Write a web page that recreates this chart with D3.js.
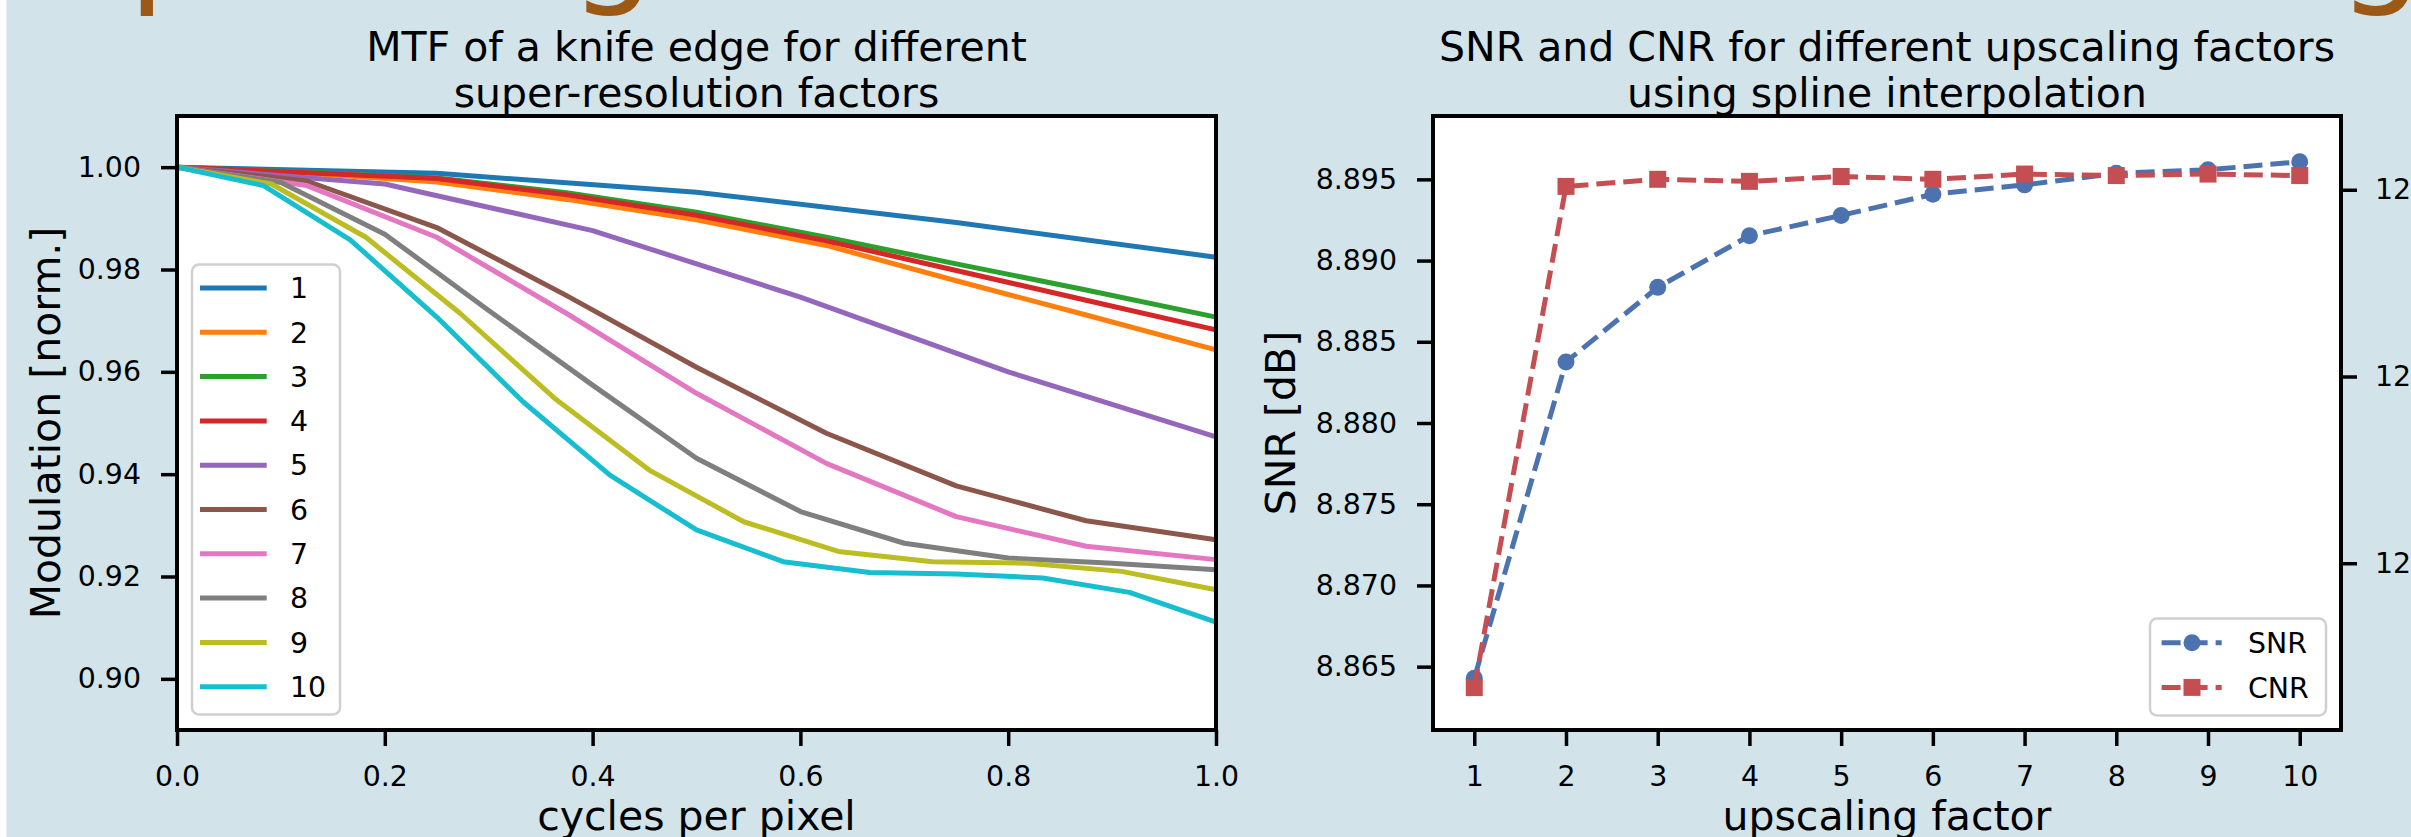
<!DOCTYPE html>
<html>
<head>
<meta charset="utf-8">
<script src="https://cdn.jsdelivr.net/npm/d3@7"></script>
<style>
  html, body { margin: 0; padding: 0; background: #d2e4ea; }
  svg.vis { display: block; font-family: 'DejaVu Sans', sans-serif; }
</style>
</head>
<body>
<svg class="vis" width="2411" height="837"></svg>
<script>

// ---- left chart: MTF per super-resolution factor ----
const mtfNames = ['1', '2', '3', '4', '5', '6', '7', '8', '9', '10'];
const mtfColors = ['#1f77b4', '#ff7f0e', '#2ca02c', '#d62728', '#9467bd',
                   '#8c564b', '#e377c2', '#7f7f7f', '#bcbd22', '#17becf'];

const freq4  = [0, 0.25, 0.5, 0.75, 1.0];
const freq5  = [0, 0.2, 0.4, 0.6, 0.8, 1.0];
const freq8  = [0, 0.125, 0.25, 0.375, 0.5, 0.625, 0.75, 0.875, 1.0];
const freq10 = [0, 0.1, 0.2, 0.3, 0.4, 0.5, 0.6, 0.7, 0.8, 0.9, 1.0];
const freq11 = [0, 0.0909, 0.1818, 0.2727, 0.3636, 0.4545, 0.5455, 0.6364, 0.7273, 0.8182, 0.9091, 1.0];
const freq12 = [0, 0.0833, 0.1667, 0.25, 0.3333, 0.4167, 0.5, 0.5833, 0.6667, 0.75, 0.8333, 0.9167, 1.0];

const mtf1  = [1.0, 0.9988, 0.9951, 0.9892, 0.9824];
const mtf2  = [1.0, 0.9988, 0.9971, 0.9937, 0.9897, 0.9847, 0.9778, 0.9711, 0.9643];
const mtf3  = [1.0, 0.9990, 0.9979, 0.9950, 0.9912, 0.9863, 0.9811, 0.9760, 0.9707];
const mtf4  = [1.0, 0.9989, 0.9978, 0.9946, 0.9906, 0.9856, 0.9798, 0.9740, 0.9682];
const mtf5  = [1.0, 0.9967, 0.9876, 0.9746, 0.9600, 0.9473];
const mtf6  = [1.0, 0.9973, 0.9882, 0.9749, 0.9609, 0.9480, 0.9377, 0.9309, 0.9272];
const mtf7  = [1.0, 0.9964, 0.9863, 0.9714, 0.9558, 0.9421, 0.9317, 0.9259, 0.9233];
const mtf8  = [1.0, 0.9970, 0.9869, 0.9720, 0.9574, 0.9431, 0.9327, 0.9265, 0.9236, 0.9226, 0.9213];
const mtf9  = [1.0, 0.9967, 0.9863, 0.9714, 0.9548, 0.9408, 0.9307, 0.9249, 0.9229, 0.9226, 0.9210, 0.9174];
const mtf10 = [1.0, 0.9964, 0.9858, 0.9707, 0.9541, 0.9398, 0.9291, 0.9229, 0.9208, 0.9205, 0.9197, 0.9169, 0.9111];

const mtfFreqs = [freq4, freq8, freq8, freq8, freq5, freq8, freq8, freq10, freq11, freq12];
const mtfValues = [mtf1, mtf2, mtf3, mtf4, mtf5, mtf6, mtf7, mtf8, mtf9, mtf10];

const mtfXTicks = [0.0, 0.2, 0.4, 0.6, 0.8, 1.0];
const mtfYTicks = [0.90, 0.92, 0.94, 0.96, 0.98, 1.00];

// ---- right chart: SNR / CNR per upscaling factor ----
const factors = [1, 2, 3, 4, 5, 6, 7, 8, 9, 10];
const snrValues = [8.86428, 8.88376, 8.88835, 8.89153, 8.89278, 8.89408, 8.89466, 8.89537, 8.89559, 8.89608];
const cnrValues = [12.0334, 12.3018, 12.3056, 12.3045, 12.3071, 12.3056, 12.3084, 12.3076, 12.3084, 12.3076];
const snrTicks = [8.865, 8.870, 8.875, 8.880, 8.885, 8.890, 8.895];
const cnrTicks = [12.1, 12.2, 12.3];

const v = {

    elems : {
        svg : 'svg.vis'
    },

    sizings : {
        font : 'DejaVu Sans',
        tickFs : 28.4,
        labelFs : 41,
        left : { x0 : 177, x1 : 1216, y0 : 116, y1 : 730 },
        right : { x0 : 1433, x1 : 2341, y0 : 116, y1 : 730 }
    },

    style_axis : (g) => {

        g.attr('font-family', v.sizings.font).attr('font-size', v.sizings.tickFs);
        g.select('.domain').remove();
        g.selectAll('.tick line').attr('stroke', '#000').attr('stroke-width', 3.5);
        g.selectAll('.tick text').attr('fill', '#000');

    },

    frame : (svg, b) => {

        svg.append('rect')
          .attr('x', b.x0).attr('y', b.y0)
          .attr('width', b.x1 - b.x0).attr('height', b.y1 - b.y0)
          .attr('fill', 'none').attr('stroke', '#000').attr('stroke-width', 4);

    },

    title : (svg, cx, lines) => {

        const t = svg.append('text')
          .attr('text-anchor', 'middle')
          .attr('font-size', v.sizings.labelFs)
          .attr('fill', '#000');
        lines.forEach((l, i) => {
            t.append('tspan').attr('x', cx).attr('y', 60.7 + i * 46.6).text(l);
        });

    },

    backdrop : (svg) => {

        svg.append('rect').attr('width', 2411).attr('height', 837).attr('fill', '#d2e4ea');
        svg.append('rect').attr('width', 6.5).attr('height', 837).attr('fill', '#ffffff');

        // bits of the poster heading that sits above the figure
        const head = svg.append('g')
          .attr('fill', '#9c5915')
          .attr('font-size', 135);
        head.append('text').attr('x', 128.5).attr('y', -12.4).text('p');
        head.append('text').attr('x', 570).attr('y', -12.4).text('g');
        head.append('text').attr('x', 2338).attr('y', -12.4).text('g');

    },

    mtf : {

        render : (svg) => {

            const b = v.sizings.left;

            const x = d3.scaleLinear().domain([0, 1]).range([b.x0, b.x1]);
            const y = d3.scaleLinear().domain([0.89, 1.01]).range([b.y1, b.y0]);

            svg.append('rect')
              .attr('x', b.x0).attr('y', b.y0)
              .attr('width', b.x1 - b.x0).attr('height', b.y1 - b.y0)
              .attr('fill', '#fff');

            const line = d3.line().x(d => x(d[0])).y(d => y(d[1]));

            svg.append('g')
              .selectAll('path.mtf')
              .data(mtfValues)
              .join('path')
              .classed('mtf', true)
              .attr('d', (vals, i) => line(vals.map((m, j) => [mtfFreqs[i][j], m])))
              .attr('fill', 'none')
              .attr('stroke', (d, i) => mtfColors[i])
              .attr('stroke-width', 5)
              .attr('stroke-linejoin', 'round');

            svg.append('g')
              .attr('transform', `translate(0,${b.y1})`)
              .call(d3.axisBottom(x).tickValues(mtfXTicks).tickFormat(d3.format('.1f'))
                    .tickSize(16).tickPadding(20))
              .call(v.style_axis);

            svg.append('g')
              .attr('transform', `translate(${b.x0},0)`)
              .call(d3.axisLeft(y).tickValues(mtfYTicks).tickFormat(d3.format('.2f'))
                    .tickSize(16).tickPadding(20))
              .call(v.style_axis);

            v.frame(svg, b);

            // legend
            const lg = svg.append('g');
            lg.append('rect')
              .attr('x', 192).attr('y', 264.5)
              .attr('width', 148).attr('height', 450)
              .attr('rx', 7)
              .attr('fill', '#fff').attr('fill-opacity', 0.8)
              .attr('stroke', '#d0d0d0').attr('stroke-width', 2.5);

            const rows = lg.selectAll('g.row')
              .data(mtfNames)
              .join('g')
              .classed('row', true)
              .attr('transform', (d, i) => `translate(0,${288 + i * 44.3})`);

            rows.append('line')
              .attr('x1', 200).attr('x2', 266.7)
              .attr('stroke', (d, i) => mtfColors[i])
              .attr('stroke-width', 5);

            rows.append('text')
              .attr('x', 290).attr('dy', '0.36em')
              .attr('font-size', v.sizings.tickFs)
              .text(d => d);

            v.title(svg, (b.x0 + b.x1) / 2, ['MTF of a knife edge for different', 'super-resolution factors']);

            svg.append('text')
              .attr('x', (b.x0 + b.x1) / 2).attr('y', 830)
              .attr('text-anchor', 'middle')
              .attr('font-size', v.sizings.labelFs)
              .text('cycles per pixel');

            svg.append('text')
              .attr('transform', `translate(60,${(b.y0 + b.y1) / 2}) rotate(-90)`)
              .attr('text-anchor', 'middle')
              .attr('font-size', v.sizings.labelFs)
              .text('Modulation [norm.]');

        }

    },

    snr : {

        render : (svg) => {

            const b = v.sizings.right;
            const blue = '#4c72b0', red = '#c44e52';

            const x = d3.scaleLinear().domain([0.55, 10.45]).range([b.x0, b.x1]);
            const yS = d3.scaleLinear().domain([8.8611, 8.8989]).range([b.y1, b.y0]);
            const yC = d3.scaleLinear().domain([12.0107, 12.3395]).range([b.y1, b.y0]);

            svg.append('rect')
              .attr('x', b.x0).attr('y', b.y0)
              .attr('width', b.x1 - b.x0).attr('height', b.y1 - b.y0)
              .attr('fill', '#fff');

            const lineS = d3.line().x((d, i) => x(factors[i])).y(d => yS(d));
            const lineC = d3.line().x((d, i) => x(factors[i])).y(d => yC(d));

            svg.append('path')
              .attr('d', lineS(snrValues))
              .attr('fill', 'none').attr('stroke', blue)
              .attr('stroke-width', 5).attr('stroke-dasharray', '19,8');

            svg.append('g')
              .selectAll('circle')
              .data(snrValues)
              .join('circle')
              .attr('cx', (d, i) => x(factors[i]))
              .attr('cy', d => yS(d))
              .attr('r', 8.5)
              .attr('fill', blue);

            svg.append('path')
              .attr('d', lineC(cnrValues))
              .attr('fill', 'none').attr('stroke', red)
              .attr('stroke-width', 5).attr('stroke-dasharray', '19,8');

            svg.append('g')
              .selectAll('rect')
              .data(cnrValues)
              .join('rect')
              .attr('x', (d, i) => x(factors[i]) - 8.5)
              .attr('y', d => yC(d) - 8.5)
              .attr('width', 17).attr('height', 17)
              .attr('fill', red);

            svg.append('g')
              .attr('transform', `translate(0,${b.y1})`)
              .call(d3.axisBottom(x).tickValues(factors).tickFormat(d3.format('d'))
                    .tickSize(16).tickPadding(20))
              .call(v.style_axis);

            svg.append('g')
              .attr('transform', `translate(${b.x0},0)`)
              .call(d3.axisLeft(yS).tickValues(snrTicks).tickFormat(d3.format('.3f'))
                    .tickSize(16).tickPadding(20))
              .call(v.style_axis);

            svg.append('g')
              .attr('transform', `translate(${b.x1},0)`)
              .call(d3.axisRight(yC).tickValues(cnrTicks).tickFormat(d3.format('.1f'))
                    .tickSize(16).tickPadding(18))
              .call(v.style_axis);

            v.frame(svg, b);

            // legend
            const lg = svg.append('g');
            lg.append('rect')
              .attr('x', 2150).attr('y', 618.5)
              .attr('width', 176).attr('height', 97)
              .attr('rx', 7)
              .attr('fill', '#fff').attr('fill-opacity', 0.8)
              .attr('stroke', '#d0d0d0').attr('stroke-width', 2.5);

            const items = [['SNR', blue, 'circle'], ['CNR', red, 'square']];
            items.forEach((it, i) => {
                const yy = 642.8 + i * 44.6;
                lg.append('line')
                  .attr('x1', 2161.6).attr('x2', 2221.7)
                  .attr('y1', yy).attr('y2', yy)
                  .attr('stroke', it[1]).attr('stroke-width', 5)
                  .attr('stroke-dasharray', '19,8');
                if (it[2] === 'circle') {
                    lg.append('circle').attr('cx', 2192).attr('cy', yy).attr('r', 8.5).attr('fill', it[1]);
                } else {
                    lg.append('rect').attr('x', 2183.5).attr('y', yy - 8.5)
                      .attr('width', 17).attr('height', 17).attr('fill', it[1]);
                }
                lg.append('text')
                  .attr('x', 2248).attr('y', yy).attr('dy', '0.36em')
                  .attr('font-size', v.sizings.tickFs)
                  .text(it[0]);
            });

            v.title(svg, (b.x0 + b.x1) / 2, ['SNR and CNR for different upscaling factors', 'using spline interpolation']);

            svg.append('text')
              .attr('x', (b.x0 + b.x1) / 2).attr('y', 830)
              .attr('text-anchor', 'middle')
              .attr('font-size', v.sizings.labelFs)
              .text('upscaling factor');

            svg.append('text')
              .attr('transform', `translate(1295,${(b.y0 + b.y1) / 2}) rotate(-90)`)
              .attr('text-anchor', 'middle')
              .attr('font-size', v.sizings.labelFs)
              .text('SNR [dB]');

        }

    },

    ctrl : {

        init : () => {

            const svg = d3.select(v.elems.svg);
            v.backdrop(svg);
            v.mtf.render(svg);
            v.snr.render(svg);

        }

    }

};

v.ctrl.init();
</script>
</body>
</html>
